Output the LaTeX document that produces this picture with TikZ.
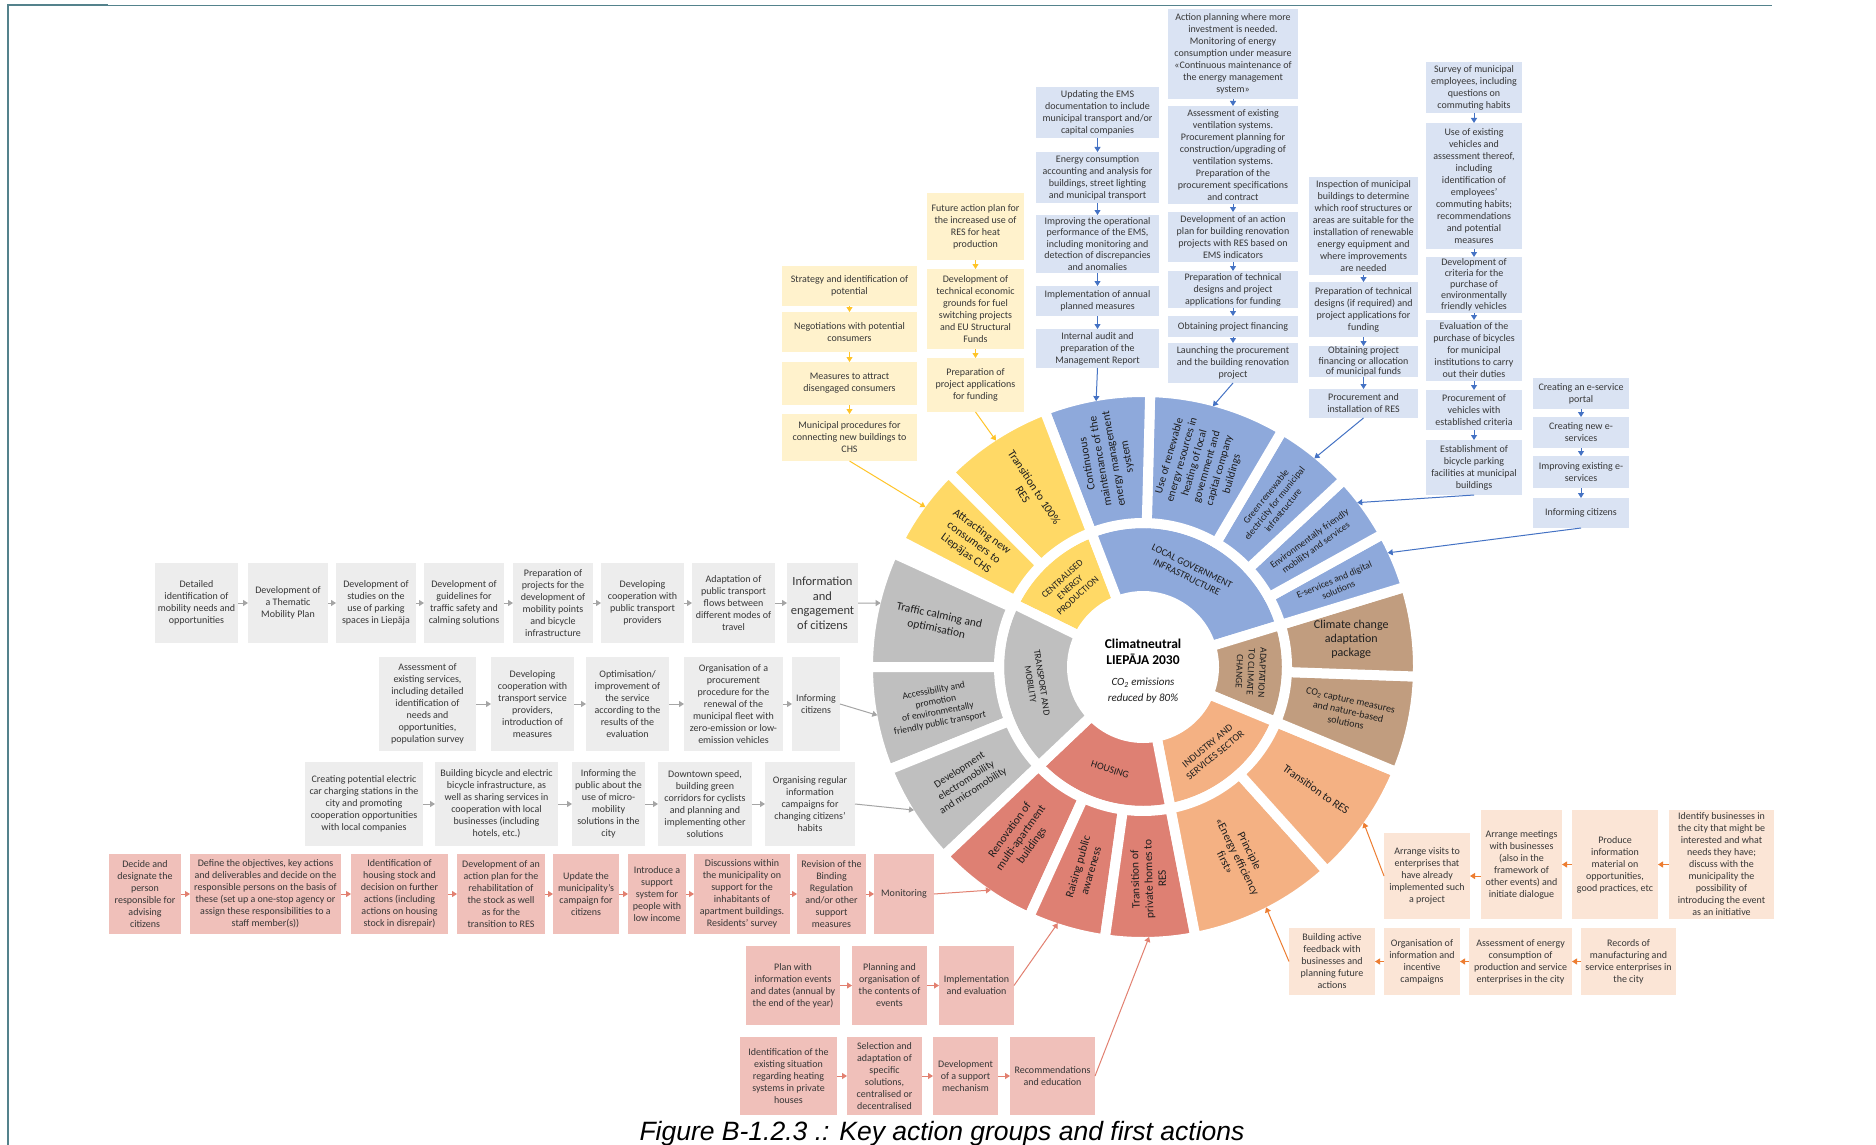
\documentclass[tikz,border=0pt]{standalone}
\usepackage{fontspec}
\setmainfont{Carlito}
\newfontfamily\capfont{Liberation Sans}
\usetikzlibrary{arrows.meta}
\definecolor{bluebox}{RGB}{218,227,243}
\definecolor{yelbox}{RGB}{255,242,204}
\definecolor{greybox}{RGB}{237,237,237}
\definecolor{pinkbox}{RGB}{240,192,186}
\definecolor{orabox}{RGB}{251,229,214}
\definecolor{blueS}{RGB}{142,169,219}
\definecolor{yelS}{RGB}{255,217,102}
\definecolor{greyS}{RGB}{191,191,191}
\definecolor{brownS}{RGB}{193,157,127}
\definecolor{oraS}{RGB}{244,177,131}
\definecolor{redS}{RGB}{222,128,115}
\definecolor{blueA}{RGB}{68,114,196}
\definecolor{yelA}{RGB}{255,196,40}
\definecolor{greyA}{RGB}{165,165,165}
\definecolor{redA}{RGB}{226,128,112}
\definecolor{oraA}{RGB}{237,125,49}
\definecolor{boxtext}{RGB}{55,55,55}
\definecolor{labtext}{RGB}{30,30,30}
\definecolor{framec}{RGB}{84,130,140}
\tikzset{
  box/.style={inner sep=0.5pt, outer sep=0pt, align=center, text=boxtext, font=\fontsize{10}{12}\selectfont},
  bbox/.style={box, fill=bluebox},
  ybox/.style={box, fill=yelbox},
  gbox/.style={box, fill=greybox},
  pbox/.style={box, fill=pinkbox},
  obox/.style={box, fill=orabox},
  arr/.style={line width=1pt, -{Triangle[length=5pt,width=6pt]}},
  barrow/.style={arr, draw=blueA},
  yarrow/.style={arr, draw=yelA},
  garrow/.style={arr, draw=greyA},
  rarrow/.style={arr, draw=redA},
  oarrow/.style={arr, draw=oraA},
  lab/.style={align=center, text=labtext, inner sep=0pt, font=\fontsize{11}{13}\selectfont},
  ilab/.style={lab, font=\fontsize{9.5}{11.5}\selectfont},
}
\newcommand\Bx[7]{%
  \pgfmathsetmacro\bxw{#5-#3}\pgfmathsetmacro\bxh{#6-#4}%
  \node[#1, anchor=north west, minimum width=\bxw pt, minimum height=\bxh pt] (#2) at (#3,#4) {#7};}
\newcommand\wsec[5]{\path[fill=#5, draw=white, line width=10pt, line join=round] (#1:#3) arc[start angle=#1, end angle=#2, radius=#3] -- (#2:#4) arc[start angle=#2, end angle=#1, radius=#4] -- cycle;}
\begin{document}
\begin{tikzpicture}[x=1pt,y=-1pt]
\useasboundingbox (0,0) rectangle (1876,1145);
\fill[white] (0,0) rectangle (1876,1145);

% ---------------- wheel ----------------
\begin{scope}[shift={(1143,667)}, y=1pt]
% inner ring
\wsec{111}{154}{71}{144}{yelS}
\wsec{17}{111}{71}{144}{blueS}
\wsec{-22.5}{17}{71}{144}{brownS}
\wsec{-79}{-22.5}{71}{144}{oraS}
\wsec{-136.5}{-79}{71}{144}{redS}
\wsec{154}{223.5}{71}{144}{greyS}
% outer ring
\wsec{155.5}{180}{144}{275}{greyS}
\wsec{180}{202}{144}{275}{greyS}
\wsec{202}{223.5}{144}{275}{greyS}
\wsec{-136.5}{-114.5}{144}{275}{redS}
\wsec{-114.5}{-98}{144}{275}{redS}
\wsec{-98}{-79}{144}{275}{redS}
\wsec{-79}{-48}{144}{275}{oraS}
\wsec{-48}{-22.5}{144}{275}{oraS}
\wsec{-22.5}{-2}{144}{275}{brownS}
\wsec{-2}{17}{144}{275}{brownS}
\wsec{17}{29}{144}{275}{blueS}
\wsec{29}{43}{144}{275}{blueS}
\wsec{43}{59.5}{144}{275}{blueS}
\wsec{59.5}{88.5}{144}{275}{blueS}
\wsec{88.5}{111}{144}{275}{blueS}
\wsec{111}{135}{144}{275}{yelS}
\wsec{135}{152.5}{144}{275}{yelS}
% inner labels
\node[ilab, rotate=42.5] (lCent) at (132.5:108) {CENTRALISED\\ENERGY\\PRODUCTION};
\node[ilab, rotate=-26, font=\fontsize{10}{12}\selectfont] (lLG) at (64:106) {LOCAL GOVERNMENT\\INFRASTRUCTURE};
\node[ilab, rotate=-92.75] (lAdapt) at (-2.75:108) {ADAPTATION\\TO CLIMATE\\CHANGE};
\node[ilab, rotate=39.25, font=\fontsize{10}{12}\selectfont] (lInd) at (-50.75:108) {INDUSTRY AND\\SERVICES SECTOR};
\node[ilab, rotate=-17.75, font=\fontsize{10}{12}\selectfont] (lHous) at (-107.75:108) {HOUSING};
\node[ilab, rotate=-81.25] (lTrans) at (188.75:108) {TRANSPORT AND\\MOBILITY};
% outer labels
\node[lab, rotate=-12.25, font=\fontsize{11.5}{14}\selectfont] (lTraffic) at (167.75:210) {Traffic calming and\\optimisation};
\node[lab, rotate=11, font=\fontsize{9.5}{11}\selectfont] (lAccess) at (191:210) {Accessibility and\\promotion\\of environmentally\\friendly public transport};
\node[lab, rotate=32.75, font=\fontsize{10.5}{12.5}\selectfont] (lDev) at (212.75:210) {Development\\electromobility\\and micromobility};
\node[lab, rotate=54.5, font=\fontsize{11.5}{13.5}\selectfont] (lReno) at (-125.5:210) {Renovation of\\multi-apartment\\buildings};
\node[lab, rotate=73.75, font=\fontsize{11.5}{13.5}\selectfont] (lRaise) at (-106.25:210) {Raising public\\awareness};
\node[lab, rotate=91.5, font=\fontsize{11.5}{13.5}\selectfont] (lPriv) at (-88.5:212) {Transition of\\private homes to\\RES};
\node[lab, rotate=-63.5, font=\fontsize{11.5}{13.5}\selectfont] (lPrinc) at (-63.5:212) {Principle\\«Energy efficiency\\first»};
\node[lab, rotate=-35.25, font=\fontsize{11.5}{13.5}\selectfont] (lTrRES) at (-35.25:212) {Transition to RES};
\node[lab, rotate=-12.25, font=\fontsize{10}{11.5}\selectfont] (lCO2) at (-12.25:210) {CO\textsubscript{2} capture measures\\and nature-based\\solutions};
\node[lab, font=\fontsize{12}{14}\selectfont] (lClim) at (7.5:210) {Climate change\\adaptation\\package};
\node[lab, rotate=23, font=\fontsize{9.5}{11}\selectfont] (lEserv) at (23:210) {E-services and digital\\solutions};
\node[lab, rotate=36, font=\fontsize{9.5}{11}\selectfont] (lEnv) at (36:210) {Environmentally friendly\\mobility and services};
\node[lab, rotate=51.25, font=\fontsize{9.5}{11}\selectfont] (lGreen) at (51.25:210) {Green renewable\\electricity for municipal\\infrastructure};
\node[lab, rotate=74] (lUse) at (74:210) {Use of renewable\\energy resources in\\heating of local\\government and\\capital company\\buildings};
\node[lab, rotate=99.75, font=\fontsize{11.5}{13.5}\selectfont] (lCont) at (99.75:210) {Continuous\\maintenance of the\\energy management\\system};
\node[lab, rotate=-57, font=\fontsize{11.5}{13.5}\selectfont] (lTr100) at (123:210) {Transition to 100\%\\RES};
\node[lab, rotate=-36.25, font=\fontsize{11.5}{13.5}\selectfont] (lAttr) at (143.75:210) {Attracting new\\consumers to\\Liepājas CHS};
% arrow targets
\coordinate (tCont) at (100:270);
\coordinate (tUse) at (75:270);
\coordinate (tGreen) at (50.6:270);
\coordinate (tEnv) at (37.5:270);
\coordinate (tEserv) at (25:270);
\coordinate (tAttr) at (143.7:270);
\coordinate (tTr100) at (123:270);
\coordinate (tTraffic) at (166.3:270);
\coordinate (tAccess) at (-169.7:270);
\coordinate (tDev) at (-148:270);
\coordinate (tReno) at (-124.3:270);
\coordinate (tRaise) at (-108.4:270);
\coordinate (tPriv) at (-88.7:270);
\coordinate (tTrRES) at (-35.2:270);
\coordinate (tPrinc) at (-62.9:270);
\end{scope}

% centre
\node[align=center, text=black, font=\bfseries\fontsize{13.5}{16}\selectfont] (ctitle) at (1143,652) {Climatneutral\\LIEPĀJA 2030};
\node[align=center, text=labtext, font=\itshape\fontsize{11}{16}\selectfont] (csub) at (1143,691) {CO\textsubscript{2} emissions\\reduced by 80\%};

% frame and caption
\draw[framec, line width=2pt] (8,1145) -- (8,5.5) -- (108,5.5);
\draw[framec, line width=1pt] (108,5.5) -- (1772,5.5);
\node[anchor=base, font=\capfont\itshape\fontsize{26.5}{30}\selectfont] (cap) at (942,1140) {Figure B-1.2.3 .: Key action groups and first actions};

% ---------------- blue columns ----------------
\Bx{bbox}{a1}{1036}{87}{1159}{138}{Updating the EMS\\documentation to include\\municipal transport and/or\\capital companies}
\Bx{bbox}{a2}{1036}{152}{1159}{203}{Energy consumption\\accounting and analysis for\\buildings, street lighting\\and municipal transport}
\Bx{bbox,font=\fontsize{10}{11.5}\selectfont}{a3}{1036}{215}{1159}{273}{Improving the operational\\performance of the EMS,\\including monitoring and\\detection of discrepancies\\and anomalies}
\Bx{bbox}{a4}{1036}{286}{1159}{316}{Implementation of annual\\planned measures}
\Bx{bbox}{a5}{1036}{329}{1159}{368}{Internal audit and\\preparation of the\\Management Report}

\Bx{bbox}{b1}{1168}{9}{1298}{99}{Action planning where more\\investment is needed.\\Monitoring of energy\\consumption under measure\\«Continuous maintenance of\\the energy management\\system»}
\Bx{bbox}{b2}{1168}{106}{1298}{204}{Assessment of existing\\ventilation systems.\\Procurement planning for\\construction/upgrading of\\ventilation systems.\\Preparation of the\\procurement specifications\\and contract}
\Bx{bbox}{b3}{1168}{212}{1298}{262}{Development of an action\\plan for building renovation\\projects with RES based on\\EMS indicators}
\Bx{bbox}{b4}{1168}{271}{1298}{308}{Preparation of technical\\designs and project\\applications for funding}
\Bx{bbox}{b5}{1168}{316}{1298}{337}{Obtaining project financing}
\Bx{bbox}{b6}{1168}{343}{1298}{383}{Launching the procurement\\and the building renovation\\project}

\Bx{bbox}{c1}{1309}{177}{1418}{275}{Inspection of municipal\\buildings to determine\\which roof structures or\\areas are suitable for the\\installation of renewable\\energy equipment and\\where improvements\\are needed}
\Bx{bbox}{c2}{1309}{282}{1418}{337}{Preparation of technical\\designs (if required) and\\project applications for\\funding}
\Bx{bbox,font=\fontsize{10}{10.4}\selectfont}{c3}{1309}{346}{1418}{377}{Obtaining project\\financing or allocation\\of municipal funds}
\Bx{bbox}{c4}{1309}{389}{1418}{418}{Procurement and\\installation of RES}

\Bx{bbox}{d1}{1426}{62}{1522}{113}{Survey of municipal\\employees, including\\questions on\\commuting habits}
\Bx{bbox}{d2}{1426}{123}{1522}{249}{Use of existing\\vehicles and\\assessment thereof,\\including\\identification of\\employees'\\commuting habits;\\recommendations\\and potential\\measures}
\Bx{bbox,font=\fontsize{10}{11}\selectfont}{d3}{1426}{257}{1522}{313}{Development of\\criteria for the\\purchase of\\environmentally\\friendly vehicles}
\Bx{bbox}{d4}{1426}{320}{1522}{381}{Evaluation of the\\purchase of bicycles\\for municipal\\institutions to carry\\out their duties}
\Bx{bbox}{d5}{1426}{390}{1522}{430}{Procurement of\\vehicles with\\established criteria}
\Bx{bbox}{d6}{1426}{440}{1522}{495}{Establishment of\\bicycle parking\\facilities at municipal\\buildings}

\Bx{bbox}{e1}{1533}{378}{1629}{409}{Creating an e-service\\portal}
\Bx{bbox}{e2}{1533}{417}{1629}{448}{Creating new e-\\services}
\Bx{bbox}{e3}{1533}{456}{1629}{488}{Improving existing e-\\services}
\Bx{bbox}{e4}{1533}{498}{1629}{528}{Informing citizens}

% ---------------- yellow columns ----------------
\Bx{ybox}{y1}{782}{266}{917}{306}{Strategy and identification of\\potential}
\Bx{ybox}{y2}{782}{312}{917}{352}{Negotiations with potential\\consumers}
\Bx{ybox}{y3}{782}{362}{917}{405}{Measures to attract\\disengaged consumers}
\Bx{ybox}{y4}{782}{414}{917}{461}{Municipal procedures for\\connecting new buildings to\\CHS}
\Bx{ybox}{y5}{927}{193}{1024}{260}{Future action plan for\\the increased use of\\RES for heat\\production}
\Bx{ybox}{y6}{927}{269}{1024}{349}{Development of\\technical economic\\grounds for fuel\\switching projects\\and EU Structural\\Funds}
\Bx{ybox}{y7}{927}{358}{1024}{412}{Preparation of\\project applications\\for funding}

% ---------------- grey rows ----------------
\Bx{gbox}{g1}{155}{563}{238}{643}{Detailed\\identification of\\mobility needs and\\opportunities}
\Bx{gbox}{g2}{248}{563}{328}{643}{Development of\\a Thematic\\Mobility Plan}
\Bx{gbox}{g3}{336}{563}{416}{643}{Development of\\studies on the\\use of parking\\spaces in Liepāja}
\Bx{gbox}{g4}{424}{563}{504}{643}{Development of\\guidelines for\\traffic safety and\\calming solutions}
\Bx{gbox}{g5}{513}{563}{593}{643}{Preparation of\\projects for the\\development of\\mobility points\\and bicycle\\infrastructure}
\Bx{gbox}{g6}{601}{563}{684}{643}{Developing\\cooperation with\\public transport\\providers}
\Bx{gbox}{g7}{692}{563}{775}{643}{Adaptation of\\public transport\\flows between\\different modes of\\travel}
\Bx{gbox,font=\fontsize{12.5}{14.5}\selectfont}{g8}{787}{563}{858}{643}{Information\\and\\engagement\\of citizens}

\Bx{gbox}{h1}{379}{657}{476}{751}{Assessment of\\existing services,\\including detailed\\identification of\\needs and\\opportunities,\\population survey}
\Bx{gbox}{h2}{491}{657}{574}{751}{Developing\\cooperation with\\transport service\\providers,\\introduction of\\measures}
\Bx{gbox}{h3}{586}{657}{669}{751}{Optimisation/\\improvement of\\the service\\according to the\\results of the\\evaluation}
\Bx{gbox}{h4}{684}{657}{783}{751}{Organisation of a\\procurement\\procedure for the\\renewal of the\\municipal fleet with\\zero-emission or low-\\emission vehicles}
\Bx{gbox}{h5}{792}{657}{840}{751}{Informing\\citizens}

\Bx{gbox}{k1}{305}{762}{423}{846}{Creating potential electric\\car charging stations in the\\city and promoting\\cooperation opportunities\\with local companies}
\Bx{gbox}{k2}{435}{762}{558}{846}{Building bicycle and electric\\bicycle infrastructure, as\\well as sharing services in\\cooperation with local\\businesses (including\\hotels, etc.)}
\Bx{gbox}{k3}{572}{762}{645}{846}{Informing the\\public about the\\use of micro-\\mobility\\solutions in the\\city}
\Bx{gbox}{k4}{658}{762}{752}{846}{Downtown speed,\\building green\\corridors for cyclists\\and planning and\\implementing other\\solutions}
\Bx{gbox}{k5}{765}{762}{855}{846}{Organising regular\\information\\campaigns for\\changing citizens'\\habits}

% ---------------- pink rows ----------------
\Bx{pbox}{p1}{109}{854}{181}{934}{Decide and\\designate the\\person\\responsible for\\advising\\citizens}
\Bx{pbox}{p2}{190}{854}{341}{934}{Define the objectives, key actions\\and deliverables and decide on the\\responsible persons on the basis of\\these (set up a one-stop agency or\\assign these responsibilities to a\\staff member(s))}
\Bx{pbox}{p3}{351}{854}{448}{934}{Identification of\\housing stock and\\decision on further\\actions (including\\actions on housing\\stock in disrepair)}
\Bx{pbox}{p4}{457}{854}{545}{934}{Development of an\\action plan for the\\rehabilitation of\\the stock as well\\as for the\\transition to RES}
\Bx{pbox}{p5}{553}{854}{619}{934}{Update the\\municipality's\\campaign for\\citizens}
\Bx{pbox}{p6}{628}{854}{686}{934}{Introduce a\\support\\system for\\people with\\low income}
\Bx{pbox}{p7}{694}{854}{790}{934}{Discussions within\\the municipality on\\support for the\\inhabitants of\\apartment buildings.\\Residents' survey}
\Bx{pbox}{p8}{797}{854}{866}{934}{Revision of the\\Binding\\Regulation\\and/or other\\support\\measures}
\Bx{pbox}{p9}{874}{854}{934}{934}{Monitoring}

\Bx{pbox}{q1}{746}{946}{840}{1025}{Plan with\\information events\\and dates (annual by\\the end of the year)}
\Bx{pbox}{q2}{852}{946}{927}{1025}{Planning and\\organisation of\\the contents of\\events}
\Bx{pbox}{q3}{939}{946}{1014}{1025}{Implementation\\and evaluation}
\Bx{pbox}{q4}{740}{1037}{837}{1115}{Identification of the\\existing situation\\regarding heating\\systems in private\\houses}
\Bx{pbox}{q5}{847}{1037}{922}{1115}{Selection and\\adaptation of\\specific\\solutions,\\centralised or\\decentralised}
\Bx{pbox}{q6}{933}{1037}{998}{1115}{Development\\of a support\\mechanism}
\Bx{pbox}{q7}{1010}{1037}{1095}{1115}{Recommendations\\and education}

% ---------------- orange rows ----------------
\Bx{obox}{o1}{1669}{810}{1774}{919}{Identify businesses in\\the city that might be\\interested and what\\needs they have;\\discuss with the\\municipality the\\possibility of\\introducing the event\\as an initiative}
\Bx{obox}{o2}{1572}{810}{1658}{919}{Produce\\information\\material on\\opportunities,\\good practices, etc}
\Bx{obox}{o3}{1481}{810}{1562}{919}{Arrange meetings\\with businesses\\(also in the\\framework of\\other events) and\\initiate dialogue}
\Bx{obox}{o4}{1384}{833}{1470}{919}{Arrange visits to\\enterprises that\\have already\\implemented such\\a project}
\Bx{obox}{o5}{1581}{928}{1676}{995}{Records of\\manufacturing and\\service enterprises in\\the city}
\Bx{obox}{o6}{1469}{928}{1572}{995}{Assessment of energy\\consumption of\\production and service\\enterprises in the city}
\Bx{obox}{o7}{1384}{928}{1460}{995}{Organisation of\\information and\\incentive\\campaigns}
\Bx{obox}{o8}{1289}{928}{1375}{995}{Building active\\feedback with\\businesses and\\planning future\\actions}

% ---------------- connectors ----------------
\foreach \u/\v in {a1/a2,a2/a3,a3/a4,a4/a5,b1/b2,b2/b3,b3/b4,b4/b5,b5/b6,c1/c2,c2/c3,c3/c4,d1/d2,d2/d3,d3/d4,d4/d5,d5/d6,e1/e2,e2/e3,e3/e4}
  \draw[barrow] (\u) -- (\v);
\foreach \u/\v in {y1/y2,y2/y3,y3/y4,y5/y6,y6/y7}
  \draw[yarrow] (\u) -- (\v);
\foreach \u/\v in {g1/g2,g2/g3,g3/g4,g4/g5,g5/g6,g6/g7,g7/g8,h1/h2,h2/h3,h3/h4,h4/h5,k1/k2,k2/k3,k3/k4,k4/k5}
  \draw[garrow] (\u) -- (\v);
\foreach \u/\v in {p1/p2,p2/p3,p3/p4,p4/p5,p5/p6,p6/p7,p7/p8,p8/p9,q1/q2,q2/q3,q4/q5,q5/q6,q6/q7}
  \draw[rarrow] (\u) -- (\v);
\foreach \u/\v in {o1/o2,o2/o3,o5/o6,o6/o7,o7/o8}
  \draw[oarrow] (\u) -- (\v);
\draw[oarrow] (o3.west |- o4.east) -- (o4.east);

\draw[barrow] (a5.south) -- (tCont);
\draw[barrow] (b6.south) -- (tUse);
\draw[barrow] (c4.south) -- (tGreen);
\draw[barrow] (d6.south) -- (tEnv);
\draw[barrow] (e4.south) -- (tEserv);
\draw[yarrow] (y4.south) -- (tAttr);
\draw[yarrow] (y7.south) -- (tTr100);
\draw[garrow] (g8.east) -- (tTraffic);
\draw[garrow] (h5.east) -- (tAccess);
\draw[garrow] (k5.east) -- (tDev);
\draw[rarrow] (p9.east) -- (tReno);
\draw[rarrow] (q3.east) -- (tRaise);
\draw[rarrow] (q7.east) -- (tPriv);
\draw[oarrow] (o4.west) -- (tTrRES);
\draw[oarrow] (o8.west) -- (tPrinc);
\end{tikzpicture}
\end{document}
